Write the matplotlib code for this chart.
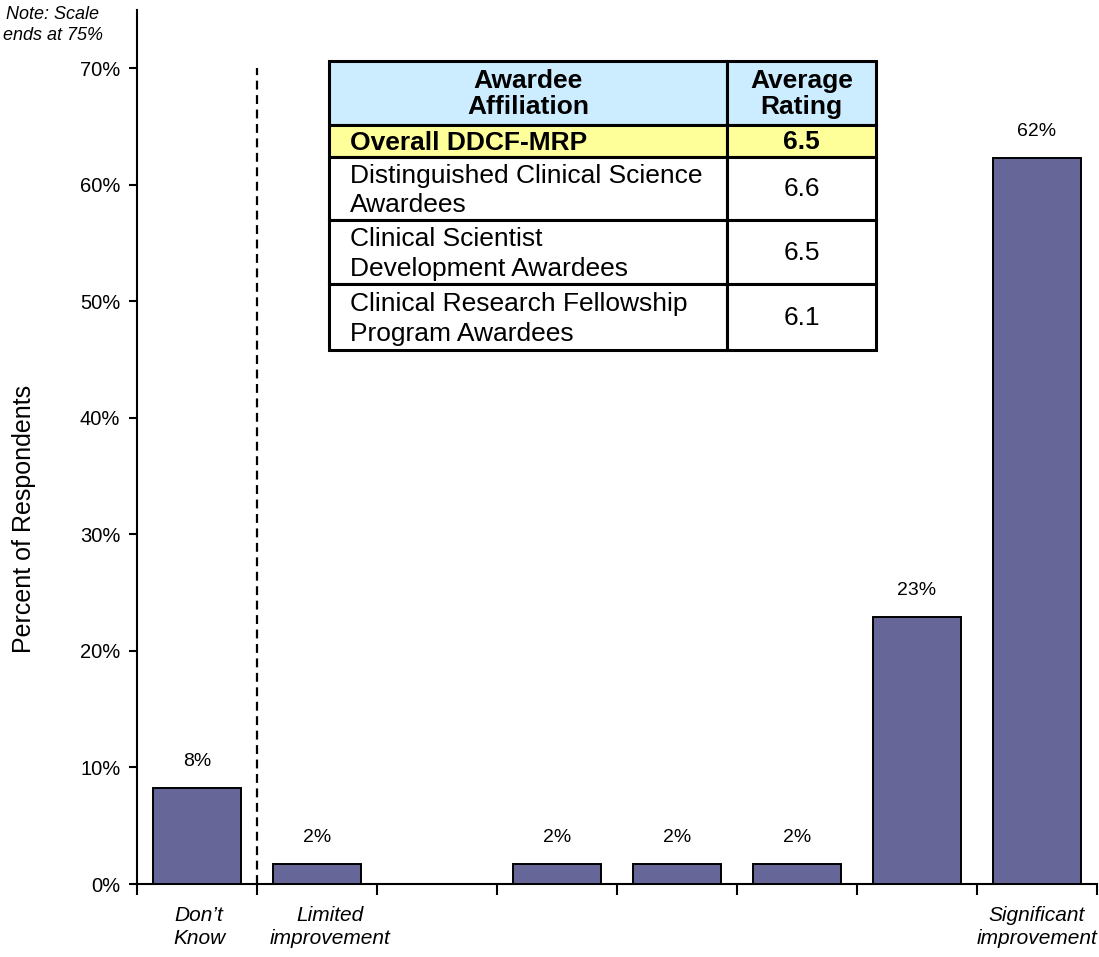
import matplotlib
matplotlib.use("Agg")
import matplotlib.pyplot as plt
import matplotlib.transforms as mtransforms
import numpy as np

plt.rcParams['font.family'] = ['Liberation Sans', 'DejaVu Sans']

categories = ["Don\u2019t\nKnow", "Limited\nimprovement", "", "", "", "", "", "Significant\nimprovement"]
values = [8.2, 1.7, 0.0, 1.7, 1.7, 1.7, 22.9, 62.3]
yticks = [0, 10, 20, 30, 40, 50, 60, 70]

table_header = ["Awardee\nAffiliation", "Average\nRating"]
table_rows = ["Overall DDCF-MRP",
              "Distinguished Clinical Science\nAwardees",
              "Clinical Scientist\nDevelopment Awardees",
              "Clinical Research Fellowship\nProgram Awardees"]
table_vals = ["6.5", "6.6", "6.5", "6.1"]

W, H = 1099, 957
fig = plt.figure(figsize=(W/100, H/100), dpi=100)
ax = fig.add_axes([137/W, (H-884)/H, (1097-137)/W, (884-10)/H])

x = np.arange(len(values))
ax.bar(x, values, width=0.73, color="#666699", edgecolor="black", linewidth=1.4, zorder=3)
for xi, v in zip(x, values):
    if v > 0:
        ax.annotate(f"{round(v):d}%", (xi, v), xytext=(0, 13), textcoords="offset points",
                    ha="center", va="bottom", fontsize=14)

ax.set_xlim(-0.5, len(values) - 0.5)
ax.set_ylim(0, 75)
ax.set_yticks(yticks)
ax.set_yticklabels([f"{t}%" for t in yticks], fontsize=14.5)
ax.set_xticks(x)
labels = ax.set_xticklabels(categories, fontsize=15, style="italic", linespacing=1.28)
ax.set_xticks(np.arange(-0.5, len(values)), minor=True)
ax.tick_params(axis="x", which="major", length=0, pad=16)
ax.tick_params(axis="x", which="minor", length=8, width=1.5, direction="out")
ax.tick_params(axis="y", length=6, width=1.5, direction="out", pad=6)
for s in ["top", "right"]:
    ax.spines[s].set_visible(False)
for s in ["left", "bottom"]:
    ax.spines[s].set_linewidth(1.5)

# small horizontal nudges of category labels (as in reference layout)
nudges = {0: 2, 1: 13}
for i, lab in enumerate(ax.get_xticklabels()):
    if i in nudges:
        lab.set_transform(lab.get_transform() +
                          mtransforms.ScaledTranslation(nudges[i] / 100, 0, fig.dpi_scale_trans))

ax.plot([0.5, 0.5], [0, 70], linestyle=(0, (4, 2.5)), color="black", linewidth=1.6, zorder=4)

fig.text(24/W, 1 - 519/H, "Percent of Respondents", rotation=90, ha="center", va="center",
         fontsize=18)

fig.text(103/W, 1 - 25/H, "Note: Scale\nends at 75%", ha="right", va="center",
         fontsize=13, style="italic", linespacing=1.3, multialignment="center")

# table
tx0, tx1, tx2 = 329, 727, 876
ys = [61, 125, 157, 220, 284, 350]
fills = ["#CCECFF", "#FFFF99", "white", "white", "white"]
def fx(px): return px / W
def fy(py): return 1 - py / H
for i in range(5):
    y0, y1 = ys[i], ys[i+1]
    for (a, b) in [(tx0, tx1), (tx1, tx2)]:
        rect = plt.Rectangle((fx(a), fy(y1)), fx(b) - fx(a), fy(y0) - fy(y1),
                             transform=fig.transFigure, facecolor=fills[i],
                             edgecolor="black", linewidth=2.2, zorder=5)
        fig.add_artist(rect)
    yc = fy((y0 + y1) / 2 + 1)
    if i == 0:
        fig.text(fx((tx0 + tx1) / 2), yc, table_header[0], ha="center", va="center",
                 fontsize=19, fontweight="bold", linespacing=1.15, zorder=6)
        fig.text(fx((tx1 + tx2) / 2), yc, table_header[1], ha="center", va="center",
                 fontsize=19, fontweight="bold", linespacing=1.15, zorder=6)
    else:
        bold = "bold" if i == 1 else "normal"
        fig.text(fx(tx0 + 21), fy((y0 + y1) / 2 + 2), table_rows[i-1], ha="left", va="center",
                 fontsize=19, fontweight=bold, linespacing=1.3, zorder=6)
        fig.text(fx((tx1 + tx2) / 2), yc, table_vals[i-1], ha="center", va="center",
                 fontsize=19, fontweight=bold, zorder=6)

fig.savefig("out.png", dpi=100)
